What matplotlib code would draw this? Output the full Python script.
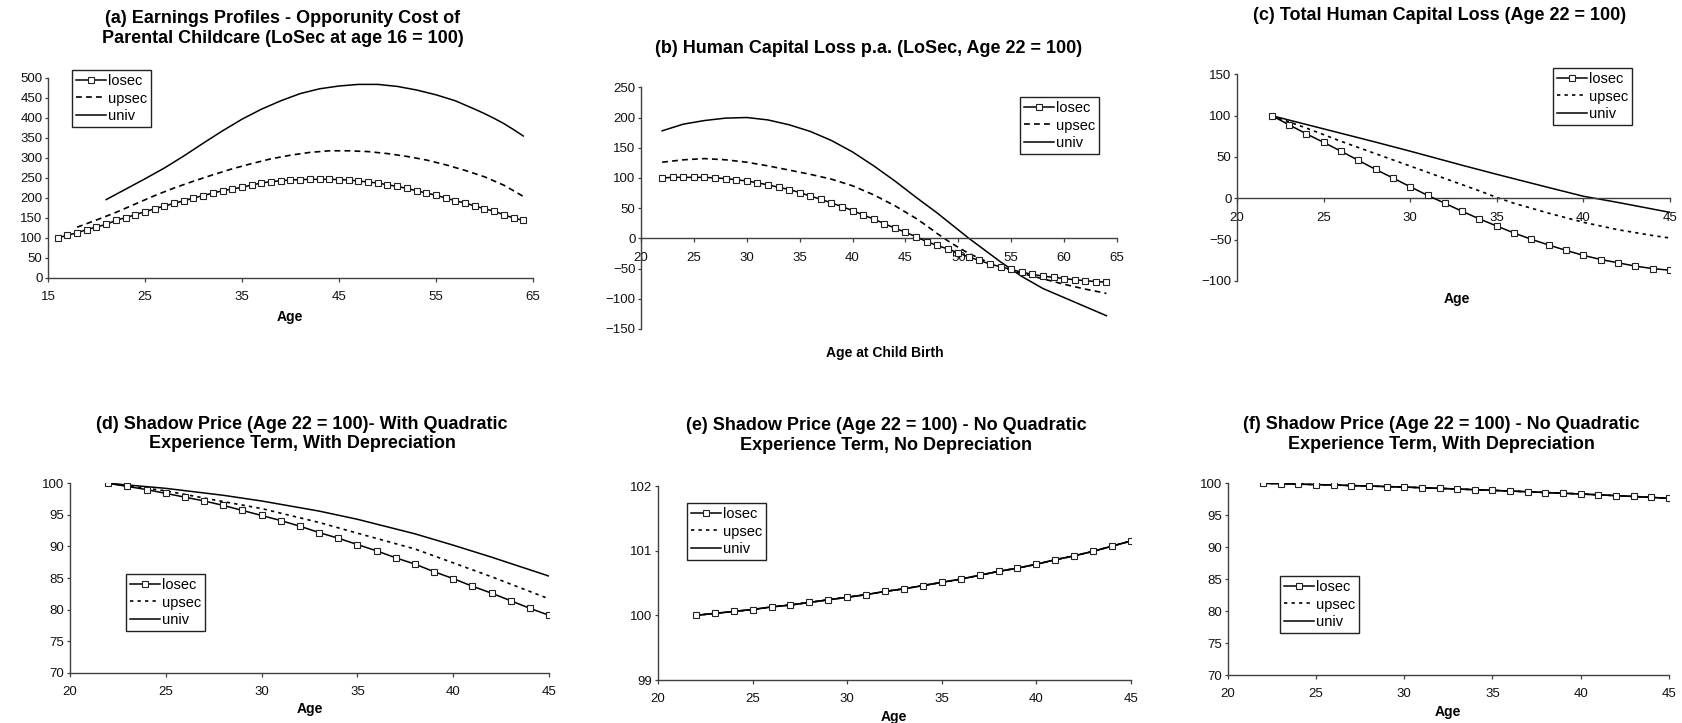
import matplotlib
matplotlib.use("Agg")
import matplotlib.pyplot as plt

plt.rcParams['font.family'] = ['Liberation Sans', 'DejaVu Sans']

W, H = 1683, 723

# ---------------- data ----------------
# (a) Earnings profiles
a_losec_age = list(range(16, 65))
a_losec = [100, 107, 113, 121, 127.5, 134, 144, 151, 158, 166, 173, 180, 186.7, 193, 200,
           206, 212.5, 218, 222.5, 226.7, 232.5, 237.5, 241, 243, 245, 246, 246.7, 246.7,
           246.7, 246, 245, 242.5, 240, 237.5, 233, 229, 224, 218, 212.5, 207, 200, 193,
           187.5, 180, 173, 167, 158, 150, 144]
a_upsec_age = [18, 20, 22, 24, 26, 28, 30, 32, 34, 36, 38, 40, 42, 44, 46, 48, 50, 52, 54,
               56, 58, 60, 62, 64]
a_upsec = [127, 145, 164, 185, 206, 225, 242, 258, 273, 286, 298, 307, 314, 318, 318, 316,
           311, 304, 295, 283, 269, 253, 232, 204]
a_univ_age = [21, 23, 25, 27, 29, 31, 33, 35, 37, 39, 41, 43, 45, 47, 49, 51, 53, 55, 57,
              59, 60, 61, 62, 63, 64]
a_univ = [196, 222, 248, 275, 305, 337, 368, 397, 422, 443, 461, 473, 480, 484, 484, 479,
          470, 458, 443, 422, 411, 399, 386, 371, 355]

# (b) Human capital loss p.a.
b_losec_age = list(range(22, 65))
b_losec = [100, 101, 101, 101, 101, 100, 99, 97, 95, 92, 88.5, 84.6, 80.8, 75.8, 70, 64.7,
           58.6, 52.6, 46, 38.7, 32, 24.3, 17, 10, 2.8, -5.5, -11.6, -17.7, -23.8, -31,
           -36.5, -42.6, -47, -51.5, -56, -59.5, -62.5, -64.5, -66.5, -68.5, -70, -71.5, -72.5]
b_upsec_age = [22, 24, 26, 28, 30, 32, 34, 36, 38, 40, 42, 44, 46, 47, 48, 49, 50, 51, 52,
               53, 54, 55, 56, 58, 60, 62, 64]
b_upsec = [126, 130, 132, 130, 126, 120, 113, 106, 98, 87, 72, 54, 33, 21, 8, -4, -15, -25,
           -33, -41, -47, -53, -58, -67, -76, -84, -91]
b_univ_age = [22, 24, 26, 28, 30, 32, 34, 36, 38, 40, 42, 44, 46, 48, 50, 51, 52, 54, 56,
              58, 60, 62, 64]
b_univ = [178, 189, 195, 199, 200, 196, 188, 177, 162, 143, 120, 95, 68, 42, 14, 0, -13,
          -39, -63, -83, -98, -113, -128]

# (c) Total human capital loss
c_losec_age = list(range(22, 46))
c_losec = [100, 89, 78, 67.7, 57, 46, 35, 24.6, 14, 3.6, -6, -15.7, -25, -33.5, -42, -49.6,
           -56.5, -63, -69, -74, -78, -82, -85, -87]
c_upsec_age = [22, 24, 26, 28, 30, 32, 34, 35, 36, 38, 40, 42, 44, 45]
c_upsec = [100, 85, 69, 54, 39, 24, 9, 1, -6, -18, -29, -38, -45, -48]
c_univ_age = [22, 25, 28, 30, 33, 35, 38, 40, 42, 43, 45]
c_univ = [100, 84, 68, 57, 40, 29, 13, 2.5, -5, -9, -17]

# (d) Shadow price, quadratic experience, depreciation
d_losec_age = list(range(22, 46))
d_losec = [100, 99.5, 99, 98.4, 97.8, 97.2, 96.5, 95.7, 94.9, 94.1, 93.2, 92.2, 91.3, 90.3,
           89.3, 88.2, 87.2, 86, 84.9, 83.7, 82.6, 81.4, 80.2, 79.1]
d_upsec_age = [22, 25, 28, 30, 33, 35, 38, 40, 42, 45]
d_upsec = [100, 98.8, 97.1, 96.0, 93.8, 92.1, 89.6, 87.4, 85.2, 81.7]
d_univ_age = [22, 25, 28, 30, 33, 35, 38, 40, 42, 45]
d_univ = [100, 99.2, 98.1, 97.2, 95.6, 94.3, 92.0, 90.2, 88.3, 85.3]

# (e) Shadow price, no quadratic, no depreciation
e_age = list(range(22, 46))
e_losec = [100.0, 100.03, 100.06, 100.09, 100.13, 100.16, 100.2, 100.24, 100.28, 100.32,
           100.37, 100.41, 100.46, 100.51, 100.56, 100.62, 100.68, 100.73, 100.79, 100.86,
           100.92, 100.99, 101.07, 101.15]
e_upsec = list(e_losec)
e_univ = list(e_losec)

# (f) Shadow price, no quadratic, with depreciation
f_age = list(range(22, 46))
f_losec = [100, 99.94, 99.87, 99.8, 99.73, 99.65, 99.57, 99.49, 99.41, 99.31, 99.21, 99.11,
           99.0, 98.9, 98.79, 98.68, 98.56, 98.45, 98.33, 98.2, 98.07, 97.94, 97.8, 97.65]
f_upsec = list(f_losec)
f_univ = list(f_losec)

labels = ['losec', 'upsec', 'univ']

# ---------------- layout helpers ----------------
fig = plt.figure(figsize=(W / 100, H / 100), dpi=100)
fig.patch.set_facecolor('white')

AX_COL = '#404040'


def add_axes(l, r, t, b):
    return fig.add_axes([l / W, 1 - b / H, (r - l) / W, (b - t) / H])


def style(ax, xlim, xticks, ylim, yticks, zero_x=False):
    ax.set_xlim(*xlim)
    ax.set_ylim(*ylim)
    ax.set_xticks(xticks)
    ax.set_yticks(yticks)
    for s in ['top', 'right']:
        ax.spines[s].set_visible(False)
    for s in ['left', 'bottom']:
        ax.spines[s].set_color(AX_COL)
        ax.spines[s].set_linewidth(1.0)
    if zero_x:
        ax.spines['bottom'].set_position(('data', 0))
    ax.tick_params(axis='x', direction='out', length=3, width=0.9, color=AX_COL,
                   pad=6.5, labelsize=9.5, labelcolor='#111111')
    ax.tick_params(axis='y', direction='out', length=2.5, width=0.9, color=AX_COL,
                   pad=1.5, labelsize=9.5, labelcolor='#111111')
    ax.set_facecolor('none')


def plot3(ax, la, lv, ua, uv, va, vv, dash):
    ax.plot(la, lv, color='black', lw=1.1, marker='s', markersize=5,
            markerfacecolor='white', markeredgecolor='#222222', markeredgewidth=0.8,
            label=labels[0], zorder=3)
    ax.plot(ua, uv, color='black', lw=1.2, linestyle=(0, dash), label=labels[1], zorder=2)
    ax.plot(va, vv, color='black', lw=1.1, label=labels[2], zorder=2)


def legend(ax, x0, y0):
    leg = ax.legend(loc='upper left', bbox_to_anchor=(x0 / W, 1 - y0 / H),
                    bbox_transform=fig.transFigure, borderaxespad=0, frameon=True,
                    fancybox=False, edgecolor='#222222', framealpha=1, fontsize=10.5,
                    numpoints=1, handlelength=2.0, handletextpad=0.15,
                    labelspacing=0.22, borderpad=0.3)
    leg.get_frame().set_linewidth(1.0)
    return leg


def title(x, y, s):
    fig.text(x / W, 1 - y / H, s, ha='center', va='center', fontsize=13,
             fontweight='bold', linespacing=1.2)


def xlabel(x, y, s):
    fig.text(x / W, 1 - y / H, s, ha='center', va='center', fontsize=10,
             fontweight='bold')


# ---------------- (a) ----------------
ax = add_axes(48, 533, 78, 278)
style(ax, (15, 65), range(15, 66, 10), (0, 500), range(0, 501, 50))
plot3(ax, a_losec_age, a_losec, a_upsec_age, a_upsec, a_univ_age, a_univ, (3.5, 2.5))
legend(ax, 72, 70)
title(283, 28.5, "(a) Earnings Profiles - Opporunity Cost of\nParental Childcare (LoSec at age 16 = 100)")
xlabel(290, 317, "Age")

# ---------------- (b) ----------------
ax = add_axes(641, 1117, 87.3, 329)
style(ax, (20, 65), range(20, 66, 5), (-150, 250), range(-150, 251, 50), zero_x=True)
plot3(ax, b_losec_age, b_losec, b_upsec_age, b_upsec, b_univ_age, b_univ, (3.5, 2.5))
legend(ax, 1020, 97)
title(869, 48.3, "(b) Human Capital Loss p.a. (LoSec, Age 22 = 100)")
xlabel(885, 353, "Age at Child Birth")

# ---------------- (c) ----------------
ax = add_axes(1237, 1670, 74.3, 281)
style(ax, (20, 45), range(20, 46, 5), (-100, 150), range(-100, 151, 50), zero_x=True)
plot3(ax, c_losec_age, c_losec, c_upsec_age, c_upsec, c_univ_age, c_univ, (2, 2.5))
legend(ax, 1553, 68)
title(1440, 15, "(c) Total Human Capital Loss (Age 22 = 100)")
xlabel(1457, 299, "Age")

# ---------------- (d) ----------------
ax = add_axes(70, 549, 483.3, 672.7)
style(ax, (20, 45), range(20, 46, 5), (70, 100), range(70, 101, 5))
plot3(ax, d_losec_age, d_losec, d_upsec_age, d_upsec, d_univ_age, d_univ, (2, 2.5))
legend(ax, 126, 574)
title(302, 434, "(d) Shadow Price (Age 22 = 100)- With Quadratic\nExperience Term, With Depreciation")
xlabel(310, 709, "Age")

# ---------------- (e) ----------------
ax = add_axes(658, 1131, 486, 680)
style(ax, (20, 45), range(20, 46, 5), (99, 102), range(99, 103, 1))
plot3(ax, e_age, e_losec, e_age, e_upsec, e_age, e_univ, (2, 2.5))
legend(ax, 687, 503)
title(886, 435.5, "(e) Shadow Price (Age 22 = 100) - No Quadratic\nExperience Term, No Depreciation")
xlabel(894, 717, "Age")

# ---------------- (f) ----------------
ax = add_axes(1227.7, 1669, 483.3, 675.3)
style(ax, (20, 45), range(20, 46, 5), (70, 100), range(70, 101, 5))
plot3(ax, f_age, f_losec, f_age, f_upsec, f_age, f_univ, (2, 2.5))
legend(ax, 1280, 576)
title(1441, 434.5, "(f) Shadow Price (Age 22 = 100) - No Quadratic\nExperience Term, With Depreciation")
xlabel(1448, 711.7, "Age")

fig.savefig("out.png", dpi=100, facecolor='white')
